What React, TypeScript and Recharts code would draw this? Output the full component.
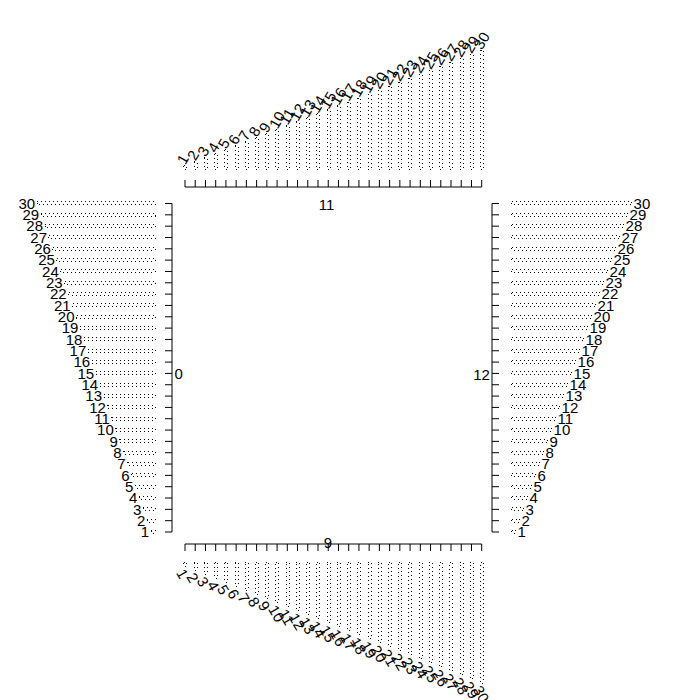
import { BarChart, Bar, XAxis, YAxis } from 'recharts';

// category labels and their positions on the axis
const labels = ['1', '2', '3', '4', '5', '6', '7', '8', '9', '10', '11', '12', '13', '14', '15',
  '16', '17', '18', '19', '20', '21', '22', '23', '24', '25', '26', '27', '28', '29', '30'];
const positions = [1, 2, 3, 4, 5, 6, 7, 8, 9, 10, 11, 12, 13, 14, 15,
  16, 17, 18, 19, 20, 21, 22, 23, 24, 25, 26, 27, 28, 29, 30];

// bar lengths for each panel
const topValues = [1, 2, 3, 4, 5, 6, 7, 8, 9, 10, 11, 12, 13, 14, 15,
  16, 17, 18, 19, 20, 21, 22, 23, 24, 25, 26, 27, 28, 29, 30];
const leftValues = [1, 2, 3, 4, 5, 6, 7, 8, 9, 10, 11, 12, 13, 14, 15,
  16, 17, 18, 19, 20, 21, 22, 23, 24, 25, 26, 27, 28, 29, 30];
const rightValues = [1, 2, 3, 4, 5, 6, 7, 8, 9, 10, 11, 12, 13, 14, 15,
  16, 17, 18, 19, 20, 21, 22, 23, 24, 25, 26, 27, 28, 29, 30];
const bottomValues = [1, 2, 3, 4, 5, 6, 7, 8, 9, 10, 11, 12, 13, 14, 15,
  16, 17, 18, 19, 20, 21, 22, 23, 24, 25, 26, 27, 28, 29, 30];

// numbers printed next to each axis (top, left, right, bottom)
const axisTitles = ['11', '0', '12', '9'];

const build = (values: number[]) =>
  labels.map((name, i) => ({ name, pos: positions[i], value: values[i] }));

const FONT = '"Liberation Sans", Arial, Helvetica, sans-serif';
const FS = 15;

type Side = 'top' | 'bottom' | 'left' | 'right';

const makeShape = (side: Side) => (props: any) => {
  const { x, y, width, height, payload } = props;
  const x0 = Math.min(x, x + width);
  const x1 = Math.max(x, x + width);
  const y0 = Math.min(y, y + height);
  const y1 = Math.max(y, y + height);
  const cx = (x0 + x1) / 2;
  const cy = (y0 + y1) / 2;
  const common = { fontSize: FS, fontFamily: FONT, fill: '#000' };
  let label = null;
  if (side === 'top') {
    label = (
      <text x={cx} y={y0} transform={`rotate(-60 ${cx} ${y0})`} textAnchor="start" {...common}>
        {payload.name}
      </text>
    );
  } else if (side === 'bottom') {
    label = (
      <text x={cx} y={y1 + 1} transform={`rotate(60 ${cx} ${y1 + 1})`} textAnchor="start"
        dominantBaseline="hanging" {...common}>
        {payload.name}
      </text>
    );
  } else if (side === 'left') {
    label = (
      <text x={x0 - 2} y={cy} textAnchor="end" dominantBaseline="central" {...common}>
        {payload.name}
      </text>
    );
  } else {
    label = (
      <text x={x1 + 2} y={cy} textAnchor="start" dominantBaseline="central" {...common}>
        {payload.name}
      </text>
    );
  }
  return (
    <g>
      <rect x={x0} y={y0} width={x1 - x0} height={y1 - y0} fill="none" stroke="#000"
        strokeWidth={1} strokeDasharray="1 3" shapeRendering="crispEdges" />
      {label}
    </g>
  );
};

// ticks are drawn as lines only, no tick text
const NoTick = () => <g />;

const layer: React.CSSProperties = { position: 'absolute', left: 0, top: 0 };
const axisLine = { stroke: '#000', strokeWidth: 1 };

const Title = ({ text, x, y }: { text: string; x: number; y: number }) => (
  <div style={{
    position: 'absolute', left: x, top: y, transform: 'translate(-50%, -50%)',
    fontSize: FS, lineHeight: 1, fontFamily: FONT, color: '#000',
  }}>{text}</div>
);

export default function App() {
  return (
    <div style={{ position: 'absolute', left: 0, top: 0, width: 700, height: 700, background: '#fff', fontFamily: FONT }}>
      {/* top panel */}
      <div style={layer}>
        <BarChart width={700} height={700} data={build(topValues)}
          margin={{ top: 50.4, bottom: 513, left: 185, right: 218.3 }}>
          <XAxis dataKey="pos" type="number" domain={[1, 30]} ticks={positions} tick={NoTick} interval={0}
            orientation="bottom" mirror tickSize={7} axisLine={axisLine} tickLine={axisLine} />
          <YAxis type="number" domain={[-4.4, 30]} hide />
          <Bar dataKey="value" barSize={3} isAnimationActive={false} shape={makeShape('top')} />
        </BarChart>
      </div>
      {/* bottom panel */}
      <div style={layer}>
        <BarChart width={700} height={700} data={build(bottomValues)}
          margin={{ top: 544, bottom: 17, left: 185, right: 218.3 }}>
          <XAxis dataKey="pos" type="number" domain={[1, 30]} ticks={positions} tick={NoTick} interval={0}
            orientation="top" mirror tickSize={7} axisLine={axisLine} tickLine={axisLine} />
          <YAxis type="number" domain={[-4.5, 30]} reversed hide />
          <Bar dataKey="value" barSize={3} isAnimationActive={false} shape={makeShape('bottom')} />
        </BarChart>
      </div>
      {/* left panel */}
      <div style={layer}>
        <BarChart width={700} height={700} data={build(leftValues)} layout="vertical"
          margin={{ top: 203.5, bottom: 168, left: 37.2, right: 528 }}>
          <XAxis type="number" domain={[-4.3, 30]} reversed hide />
          <YAxis dataKey="pos" type="number" domain={[1, 30]} ticks={positions} tick={NoTick} interval={0} reversed
            orientation="right" mirror tickSize={7} axisLine={axisLine} tickLine={axisLine} />
          <Bar dataKey="value" barSize={3} isAnimationActive={false} shape={makeShape('left')} />
        </BarChart>
      </div>
      {/* right panel */}
      <div style={layer}>
        <BarChart width={700} height={700} data={build(rightValues)} layout="vertical"
          margin={{ top: 203.5, bottom: 168, left: 492, right: 68.4 }}>
          <XAxis type="number" domain={[-4.9, 30]} hide />
          <YAxis dataKey="pos" type="number" domain={[1, 30]} ticks={positions} tick={NoTick} interval={0} reversed
            orientation="left" mirror tickSize={7} axisLine={axisLine} tickLine={axisLine} />
          <Bar dataKey="value" barSize={3} isAnimationActive={false} shape={makeShape('right')} />
        </BarChart>
      </div>
      <Title text={axisTitles[0]} x={326.5} y={204} />
      <Title text={axisTitles[1]} x={178.7} y={373} />
      <Title text={axisTitles[2]} x={481.5} y={373.5} />
      <Title text={axisTitles[3]} x={327.8} y={541.5} />
    </div>
  );
}
